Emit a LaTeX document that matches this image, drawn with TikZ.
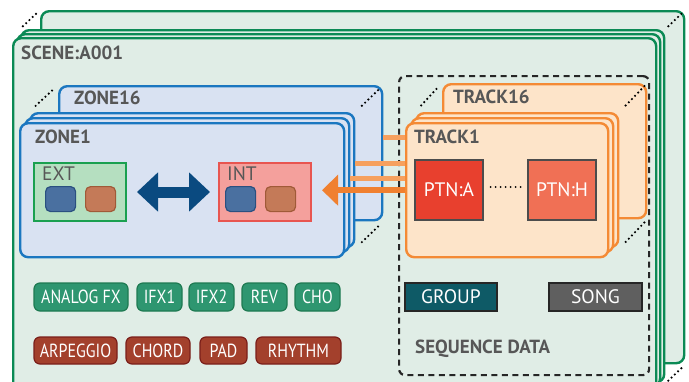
\documentclass[tikz,border=0pt]{standalone}
\usepackage{fontspec}
\setmainfont{PT Sans}
\newfontfamily\btnfont{PT Sans}[FakeStretch=0.84]
\usetikzlibrary{arrows.meta}

\definecolor{scenefill}{HTML}{E0EDE6}
\definecolor{sceneline}{HTML}{0B8A55}
\definecolor{zonefill}{HTML}{D9E2F2}
\definecolor{zoneline}{HTML}{1B77C0}
\definecolor{trackfill}{HTML}{FDE4C9}
\definecolor{trackline}{HTML}{F48A35}
\definecolor{labelgray}{HTML}{575757}
\definecolor{extfill}{HTML}{B5DFC0}
\definecolor{extline}{HTML}{1AA050}
\definecolor{intfill}{HTML}{F4A09C}
\definecolor{intline}{HTML}{E85550}
\definecolor{sqblue}{HTML}{4A70A0}
\definecolor{sqblueline}{HTML}{2A5080}
\definecolor{sqbrown}{HTML}{C47A58}
\definecolor{sqbrownline}{HTML}{A05A38}
\definecolor{duplexblue}{HTML}{0A4A80}
\definecolor{linkorange}{HTML}{F6A05E}
\definecolor{arrorange}{HTML}{F08030}
\definecolor{fxgreen}{HTML}{2E9670}
\definecolor{fxgreenline}{HTML}{1E7A52}
\definecolor{ctlred}{HTML}{A3402C}
\definecolor{ctlredline}{HTML}{7A1F1A}
\definecolor{ptnared}{HTML}{E8402E}
\definecolor{ptnhred}{HTML}{F07055}
\definecolor{groupteal}{HTML}{0E5A66}
\definecolor{songgray}{HTML}{5F5F5F}

\tikzset{
  card/.style={draw, rounded corners=8pt, line width=2.4pt, anchor=north west, inner sep=0pt},
  scenecard/.style={card, draw=sceneline, fill=scenefill, minimum width=643pt, minimum height=352pt},
  zonecard/.style={card, draw=zoneline, fill=zonefill, minimum width=324pt, minimum height=134pt},
  trackcard/.style={card, draw=trackline, fill=trackfill, minimum width=202pt, minimum height=134pt},
  hdr/.style={anchor=west, inner sep=0pt, text=labelgray, font=\bfseries\fontsize{19}{19}\selectfont},
  sublbl/.style={anchor=west, inner sep=0pt, text=labelgray, font=\fontsize{19.5}{19.5}\selectfont},
  persp/.style={line width=2.4pt, dash pattern=on 0pt off 4.5pt, line cap=round, shorten <=9pt, shorten >=4pt},
  fxbox/.style={draw, line width=2pt, anchor=north west, minimum width=92pt, minimum height=58pt},
  fxsq/.style={draw, line width=1.2pt, rounded corners=5pt, anchor=north west, minimum width=30pt, minimum height=25pt},
  ptn/.style={draw=black!70, line width=1.2pt, minimum width=68pt, minimum height=60pt, text=white, font=\fontsize{19.5}{19.5}\selectfont},
  seqbtn/.style={draw=black!85, line width=2.2pt, minimum height=28pt, text=white, font=\fontsize{19.5}{19.5}\selectfont},
  fxbtn/.style={draw=fxgreenline, fill=fxgreen, line width=1.2pt, rounded corners=6pt, minimum height=28pt, inner sep=0pt, text=white, font=\btnfont\fontsize{19}{19}\selectfont},
  ctlbtn/.style={draw=ctlredline, fill=ctlred, line width=1.2pt, rounded corners=6pt, minimum height=27pt, inner sep=0pt, text=white, font=\btnfont\fontsize{19}{19}\selectfont},
  link/.style={draw=linkorange, line width=5pt},
}

\begin{document}
\begin{tikzpicture}[x=1pt,y=-1pt]
\useasboundingbox (0,0) rectangle (689,381);
\clip (0,0) rectangle (689,381);

% scenes
\node[scenecard] (sceneback) at (40,10) {};
\foreach \i/\n in {2/c,1/b,0/a}
  \node[scenecard] (scene\n) at (12+4*\i,37-4*\i) {};
\draw[persp, shorten <=4pt] (scenec.north west) -- (sceneback.north west);
\draw[persp, shorten <=4pt] (scenec.north east) -- (sceneback.north east);
\draw[persp, shorten <=4pt] (scenec.south east) -- (sceneback.south east);
\node[hdr] (scenelbl) at (21,53) {SCENE:A001};

% sequence data
\node[draw=black!85, line width=2.2pt, dash pattern=on 6pt off 4.5pt, rounded corners=6pt,
  anchor=north west, minimum width=250pt, minimum height=299pt] (seq) at (398,75) {};
\node[hdr] (seqlbl) at (415,349) {SEQUENCE DATA};

% tracks
\node[trackcard, minimum width=203pt] (track16) at (442,83) {};
\foreach \i/\n in {2/c,1/b,0/a}
  \node[trackcard] (track\n) at (405+5*\i,122-5*\i) {};
\draw[persp] (trackc.north west) -- (track16.north west);
\draw[persp] (trackc.north east) -- (track16.north east);
\draw[persp] (trackc.south east) -- (track16.south east);
\node[hdr] (track16lbl) at (453,97) {TRACK16};
\node[hdr] (track1lbl) at (414,137) {TRACK1};
\node[ptn, fill=ptnared] (ptna) at (449,190) {PTN:A};
\node[ptn, fill=ptnhred] (ptnh) at (562,190) {PTN:H};
\draw[line width=2pt, dash pattern=on 0pt off 5pt, line cap=round, shorten <=7pt, shorten >=5pt]
  ([yshift=3pt]ptna.east) -- ([yshift=3pt]ptnh.west);

\node[seqbtn, fill=groupteal, minimum width=92pt] (group) at (451,297) {GROUP};
\node[seqbtn, fill=songgray, minimum width=93pt] (song) at (595.5,297) {SONG};

% zones
\node[zonecard, minimum width=323pt] (zone16) at (58,85) {};
\foreach \i/\n in {2/c,1/b,0/a}
  \node[zonecard] (zone\n) at (19+5*\i,122-5*\i) {};
\draw[persp] (zonec.north west) -- (zone16.north west);
\draw[persp] (zonec.north east) -- (zone16.north east);
\draw[persp] (zonec.south east) -- (zone16.south east);
\node[hdr] (zone16lbl) at (74,98) {ZONE16};
\node[hdr] (zone1lbl) at (35,137) {ZONE1};

\node[fxbox, draw=extline, fill=extfill] (ext) at (33,162) {};
\node[sublbl] (extlbl) at (42,174) {EXT};
\node[fxsq, draw=sqblueline, fill=sqblue] (extA) at (45,186) {};
\node[fxsq, draw=sqbrownline, fill=sqbrown] (extB) at (85,186) {};

\node[fxbox, draw=intline, fill=intfill] (int) at (218,162) {};
\node[sublbl] (intlbl) at (227,174) {INT};
\node[fxsq, draw=sqblueline, fill=sqblue] (intA) at (225,186) {};
\node[fxsq, draw=sqbrownline, fill=sqbrown] (intB) at (265,186) {};

\draw[duplexblue, line width=11pt, shorten <=10pt, shorten >=8pt,
  {Triangle[width=38pt,length=21pt]}-{Triangle[width=38pt,length=21pt]}] (ext.east) -- (int.west);

% zone <-> track links
\coordinate (l16) at ([yshift=15.5pt]zone16.east);
\coordinate (lc) at ([yshift=17pt]zonec.east);
\coordinate (lb) at ([yshift=7pt]zoneb.east);
\draw[link] (l16) -- (l16 -| tracka.west);
\draw[link] (lc) -- (lc -| tracka.west);
\draw[link] (lb) -- (lb -| tracka.west);
\draw[draw=arrorange, line width=5.5pt, shorten >=10pt, -{Triangle[width=30pt,length=16pt]}]
  (tracka.west) -- (tracka.west -| int.east);

% effects and controls
\foreach \x/\w/\t [count=\k] in {81/94/ANALOG FX,159.5/45/IFX1,211.5/45/IFX2,264.5/45/REV,317.5/45/CHO}
  \node[fxbtn, minimum width=\w pt] (fx\k) at (\x,297) {\t};
\foreach \x/\w/\t [count=\k] in {75.5/83/ARPEGGIO,158/64/CHORD,223.5/47/PAD,298.5/85/RHYTHM}
  \node[ctlbtn, minimum width=\w pt] (ctl\k) at (\x,350.5) {\t};

\end{tikzpicture}
\end{document}
